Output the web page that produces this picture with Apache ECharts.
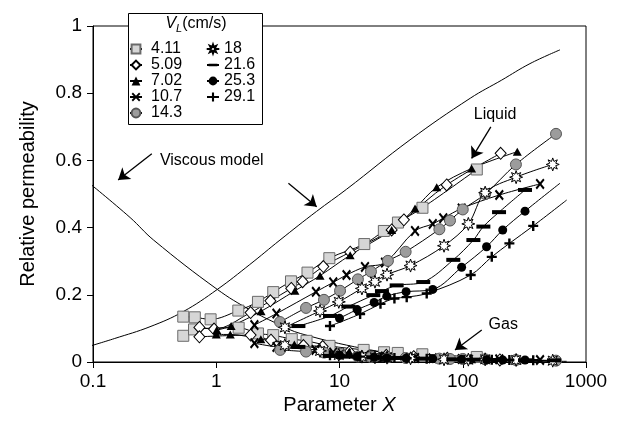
<!DOCTYPE html>
<html><head><meta charset="utf-8">
<script src="https://cdn.jsdelivr.net/npm/echarts@6/dist/echarts.min.js"></script>
<style>html,body{margin:0;padding:0;background:#fff}#c{width:623px;height:423px}</style>
</head><body><div id="c"></div>
<script>
const FONT = '"Liberation Sans", Arial, Helvetica, sans-serif';

// ---- legend / categories ----
const velocities = ['4.11','5.09','7.02','10.7','14.3','18','21.6','25.3','29.1'];
const legendCol1 = ['4.11','5.09','7.02','10.7','14.3'];
const legendCol2 = ['18','21.6','25.3','29.1'];
const yTicks = [0, 0.2, 0.4, 0.6, 0.8, 1];
const xRange = [0.1, 1000];

// ---- viscous model curves [X, kr] ----
const liquidModel = [[0.09,0.045],[0.15,0.07],[0.29,0.105],[0.54,0.15],[1.02,0.216],[1.87,0.29],[3.29,0.363],[6.5,0.448],[11.4,0.514],[37.3,0.661],[115,0.785],[207,0.839],[351,0.888],[615,0.929]];
const gasModel = [[0.09,0.537],[0.2,0.43],[0.31,0.363],[1.02,0.216],[1.88,0.155],[3.3,0.11],[4.8,0.085],[15.6,0.04],[40,0.018],[83,0.007],[697,0.002]];

// ---- measured data, liquid (L) and gas (G) branches [X, kr] ----
const v411L = [[0.54,0.135],[0.67,0.133],[0.90,0.127],[1.51,0.153],[2.18,0.179],[2.90,0.208],[4.04,0.240],[5.50,0.266],[8.27,0.309],[15.9,0.351],[22.9,0.390],[29.8,0.415],[47.1,0.459],[130,0.573]];
const v411G = [[0.54,0.078],[0.66,0.097],[1.52,0.102],[2.18,0.085],[2.90,0.080],[4.1,0.068],[5.4,0.063],[8.3,0.048],[15.7,0.036],[23,0.029],[29.7,0.027],[47,0.023],[130,0.015]];
const v509L = [[0.73,0.103],[0.96,0.098],[1.90,0.147],[2.75,0.182],[4.06,0.219],[5.02,0.239],[7.39,0.284],[12.2,0.327],[26.5,0.393],[33.3,0.423],[74.1,0.527],[203,0.621]];
const v509G = [[0.73,0.075],[1.90,0.080],[2.78,0.065],[5.1,0.049],[7.3,0.046],[12,0.030],[24,0.020],[40,0.016],[75,0.011],[200,0.006]];
const v702L = [[1.01,0.095],[1.32,0.107],[2.31,0.151],[4.35,0.212],[6.95,0.257],[12.2,0.318],[26.5,0.393],[41.0,0.457],[61.5,0.520],[118,0.576],[277,0.626]];
const v702G = [[1.0,0.082],[1.3,0.082],[2.3,0.068],[4.3,0.052],[7.0,0.040],[12,0.030],[26,0.018],[41,0.014],[62,0.012],[118,0.008],[277,0.005]];
const v107L = [[2.04,0.110],[3.08,0.144],[6.44,0.209],[8.9,0.237],[11.4,0.259],[16.1,0.283],[23.4,0.296],[41.0,0.390],[57.1,0.411],[69.5,0.428],[98.1,0.457],[198,0.497],[424,0.530]];
const v107G = [[2.04,0.056],[3.08,0.045],[6.4,0.036],[8.9,0.028],[11.4,0.025],[16.1,0.020],[23.4,0.016],[41,0.012],[57,0.011],[98,0.009],[198,0.008],[424,0.006]];
const v143L = [[3.29,0.119],[5.35,0.161],[7.48,0.185],[10.1,0.212],[14.1,0.246],[18.0,0.269],[24.7,0.301],[34.4,0.328],[64.6,0.395],[78.8,0.421],[100,0.454],[152,0.50],[270,0.588],[571,0.679]];
const v143G = [[3.3,0.036],[5.35,0.031],[7.5,0.028],[10.1,0.025],[14.1,0.016],[18,0.015],[24.7,0.014],[34.4,0.012],[64.6,0.010],[78.8,0.009],[100,0.009],[152,0.008],[270,0.006],[571,0.004]];
const v18L = [[3.61,0.103],[6.95,0.152],[9.87,0.179],[15.2,0.219],[19.4,0.239],[24.3,0.260],[37.7,0.287],[70.5,0.346],[111,0.411],[152,0.504],[271,0.550],[537,0.588]];
const v18G = [[3.6,0.050],[6.95,0.033],[9.87,0.021],[15.2,0.016],[19.4,0.014],[24.3,0.013],[37.7,0.011],[70.5,0.008],[111,0.007],[152,0.008],[271,0.006],[537,0.004]];
const v216L = [[4.64,0.107],[8.37,0.137],[11.8,0.165],[18.8,0.199],[22.1,0.211],[29.1,0.228],[47.8,0.238],[83.8,0.304],[122,0.363],[147,0.403],[197,0.446],[320,0.512]];
const v216G = [[4.64,0.045],[8.37,0.018],[11.8,0.016],[18.8,0.014],[22.1,0.013],[29.1,0.012],[47.8,0.010],[83.8,0.008],[122,0.007],[197,0.006],[320,0.005],[550,0.005]];
const v253L = [[10.0,0.130],[13.9,0.156],[19.1,0.177],[24.2,0.196],[34.7,0.209],[57.1,0.216],[97.9,0.282],[156,0.343],[211,0.393],[320,0.449]];
const v253Tail = [615,0.532];
const v253G = [[10,0.020],[13.9,0.016],[19.1,0.014],[24.2,0.012],[34.7,0.011],[57.1,0.010],[97.9,0.008],[156,0.007],[211,0.006],[320,0.006]];
const v291L = [[8.37,0.107],[14.7,0.143],[21.5,0.173],[27.9,0.189],[35.1,0.193],[51.0,0.204],[116,0.259],[172,0.313],[239,0.353],[373,0.405]];
const v291Tail = [697,0.482];
const v291G = [[8.37,0.020],[14.7,0.016],[21.5,0.014],[27.9,0.012],[35.1,0.011],[51,0.010],[116,0.008],[172,0.007],[239,0.006],[373,0.005]];

// ---- annotations (data coordinates) ----
const arrowPairs = [
  [[0.30,0.62],[0.16,0.542]],
  [[3.85,0.532],[6.53,0.462]],
  [[169,0.700],[118,0.606]],
  [[142.6,0.095],[86.5,0.036]]
];
const annoTexts = [['Viscous model',[0.92,0.598]],['Liquid',[183,0.735]],['Gas',[213,0.110]]];

// ---- styles ----
const xPath = 'path://M0,1.5 L1.5,0 L5,3.5 L8.5,0 L10,1.5 L6.5,5 L10,8.5 L8.5,10 L5,6.5 L1.5,10 L0,8.5 L3.5,5 Z';
const plusPath = 'path://M3.8,0 H6.2 V3.8 H10 V6.2 H6.2 V10 H3.8 V6.2 H0 V3.8 H3.8 Z';
const barPath = 'path://M0,0 M0,5 H14 V9 H0 Z M14,14';
const starPath = 'path://M10,0 L11.9,5.4 L17.1,2.9 L14.6,8.1 L20,10 L14.6,11.9 L17.1,17.1 L11.9,14.6 L10,20 L8.1,14.6 L2.9,17.1 L5.4,11.9 L0,10 L5.4,8.1 L2.9,2.9 L8.1,5.4 Z';
const styles = [
  {symbol:'rect', size:11, fill:'#d6d6d6', border:'#6a6a6a', bw:1},
  {symbol:'diamond', size:[11,12], fill:'#fff', border:'#000', bw:1},
  {symbol:'triangle', size:[9,8], fill:'#000', border:'#000', bw:0},
  {symbol:xPath, size:[9,11], fill:'#000', border:'#000', bw:0},
  {symbol:'circle', size:11, fill:'#9c9c9c', border:'#555', bw:1},
  {symbol:starPath, size:13, fill:'#fff', border:'#000', bw:1},
  {symbol:barPath, size:14, fill:'#000', border:'#000', bw:0},
  {symbol:'circle', size:9, fill:'#000', border:'#000', bw:0},
  {symbol:plusPath, size:10, fill:'#000', border:'#000', bw:0}
];
const liquidSets = [v411L, v509L, v702L, v107L, v143L, v18L, v216L, v253L.concat([{value:v253Tail, symbol:'none'}]), v291L.concat([{value:v291Tail, symbol:'none'}])];
const gasSets = [v411G, v509G, v702G, v107G, v143G, v18G, v216G, v253G, v291G];

function dataSeries(name, data, st) {
  return {
    type:'line', name, data, smooth:0.35, clip:false,
    symbol:st.symbol, symbolSize:st.size, symbolKeepAspect:true,
    itemStyle:{color:st.fill, borderColor:st.border, borderWidth:st.bw, opacity:1},
    lineStyle:{color:'#000', width:1},
    emphasis:{disabled:true}, silent:true, z:3, animation:false
  };
}
const series = [];
series.push({
  type:'line', name:'liquidModel', data:liquidModel, smooth:0.4, showSymbol:false, symbol:'none', clip:false,
  lineStyle:{color:'#000', width:1}, silent:true, z:2,
  markLine:{
    silent:true, symbol:['none','arrow'], symbolSize:11, animation:false,
    lineStyle:{color:'#000', width:1.3, type:'solid'}, label:{show:false}, emphasis:{disabled:true},
    data: arrowPairs.map(p => [{coord:p[0]},{coord:p[1]}])
  },
  markPoint:{
    silent:true, symbol:'circle', symbolSize:1, itemStyle:{color:'rgba(0,0,0,0)'}, animation:false,
    label:{show:true, position:'inside', formatter:'{b}', color:'#000', fontSize:16, fontFamily:FONT},
    data: annoTexts.map(t => ({name:t[0], coord:t[1]}))
  }
});
series.push({
  type:'line', name:'gasModel', data:gasModel, smooth:0.4, showSymbol:false, symbol:'none', clip:false,
  lineStyle:{color:'#000', width:1}, silent:true, z:2
});
velocities.forEach((v,i) => {
  series.push(dataSeries(v, liquidSets[i], styles[i]));
  series.push(dataSeries(v, gasSets[i], styles[i]));
});

const legendBase = {
  orient:'vertical', itemWidth:12, itemHeight:11, itemGap:0, padding:0, z:20,
  selectedMode:false, inactiveColor:'#000'
};

const chart = echarts.init(document.getElementById('c'), null, {renderer:'canvas'});
chart.setOption({
  animation:false,
  backgroundColor:'#fff',
  textStyle:{fontFamily:FONT},
  grid:{left:93, right:37, top:26, bottom:61, show:true, borderColor:'#000', borderWidth:1, backgroundColor:'transparent', containLabel:false, outerBoundsMode:'none'},
  xAxis:{
    type:'log', logBase:10, min:xRange[0], max:xRange[1],
    name:'{n|Parameter }{i|X}', nameLocation:'middle', nameGap:31,
    nameTextStyle:{rich:{n:{fontSize:20, fontFamily:FONT, color:'#000'}, i:{fontSize:20, fontFamily:FONT, fontStyle:'italic', color:'#000'}}},
    axisLine:{show:true, lineStyle:{color:'#000', width:1}},
    axisTick:{show:true, inside:false, length:6, lineStyle:{color:'#000'}},
    minorTick:{show:false}, splitLine:{show:false}, minorSplitLine:{show:false},
    axisLabel:{color:'#000', fontSize:19, fontFamily:FONT, margin:10, hideOverlap:false, showMinLabel:true, showMaxLabel:true,
      formatter: v => String(+Number(v).toPrecision(6))}
  },
  yAxis:{
    type:'value', min:yTicks[0], max:yTicks[yTicks.length-1], interval:0.2,
    name:'Relative permeability', nameLocation:'middle', nameGap:55,
    nameTextStyle:{fontSize:20, fontFamily:FONT, color:'#000'},
    axisLine:{show:true, lineStyle:{color:'#000', width:1}},
    axisTick:{show:true, inside:false, length:6, lineStyle:{color:'#000'}},
    splitLine:{show:false},
    axisLabel:{color:'#000', fontSize:19, fontFamily:FONT, margin:11, padding:[0,0,8,0], showMinLabel:true, showMaxLabel:true,
      formatter: v => String(+Number(v).toPrecision(6))}
  },
  legend:[
    Object.assign({}, legendBase, {left:129, top:41, data:legendCol1,
      textStyle:{fontSize:16, fontFamily:FONT, color:'#000', lineHeight:15, padding:[0,0,0,4]}}),
    Object.assign({}, legendBase, {left:206, top:41, data:legendCol2,
      textStyle:{fontSize:16, fontFamily:FONT, color:'#000', lineHeight:15, padding:[0,0,0,0]}})
  ],
  graphic:[
    {type:'rect', z:10, shape:{x:128.5, y:13.5, width:134, height:111}, style:{fill:'#fff', stroke:'#000', lineWidth:1}, silent:true},
    {type:'text', z:11, x:196, y:25, silent:true, style:{
      text:'{v|V}{l|L}{t|(cm/s)}', align:'center', verticalAlign:'middle',
      rich:{
        v:{fontSize:16, fontFamily:FONT, fontStyle:'italic', fill:'#000', lineHeight:18, verticalAlign:'top'},
        l:{fontSize:11, fontFamily:FONT, fontStyle:'italic', fill:'#000', lineHeight:11, verticalAlign:'bottom'},
        t:{fontSize:16, fontFamily:FONT, fill:'#000', lineHeight:18, verticalAlign:'top'}
      }}}
  ],
  series
});
</script></body></html>
